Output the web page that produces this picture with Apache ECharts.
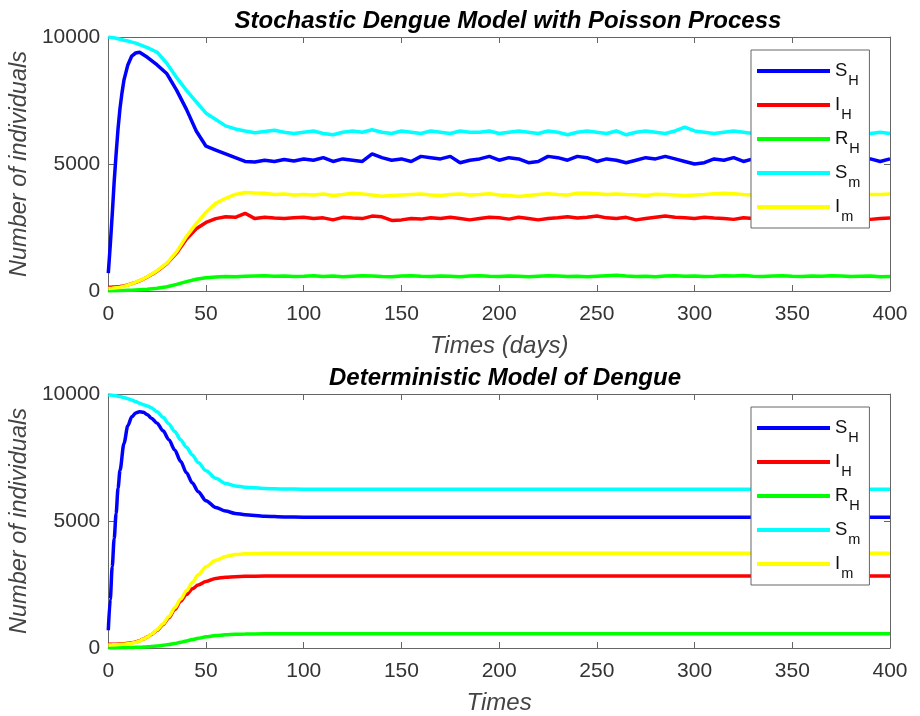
<!DOCTYPE html>
<html>
<head>
<meta charset="utf-8">
<script src="https://cdn.jsdelivr.net/npm/echarts@6/dist/echarts.min.js"></script>
<style>
  html,body{margin:0;padding:0;background:#fff;}
  #chart{width:920px;height:716px;}
</style>
</head>
<body>
<div id="chart"></div>
<script>
// 图例名称
const names = ['S_H', 'I_H', 'R_H', 'S_m', 'I_m']
const colors = ['#0000ff', '#ff0000', '#00ff00', '#00ffff', '#ffff00']

// 随机模型的时间点
const daysStoch = [0,1,2,3,4,5,6,7,8,10,12,14,16,18,20,
  25,30,35,40,45,50,55,60,65,70,75,80,85,90,95,
  100,105,110,115,120,125,130,135,140,145,150,155,160,165,170,175,180,185,190,195,
  200,205,210,215,220,225,230,235,240,245,250,255,260,265,270,275,280,285,290,295,
  300,305,310,315,320,325,330,335,340,345,350,355,360,365,370,375,380,385,390,395,400]

const shStoch = [700,1800,3000,4300,5400,6400,7200,7800,8300,8900,9250,9370,9400,9300,9200,
  8900,8550,7900,7150,6300,5700,5550,5400,5250,5100,5080,5150,5100,5180,5120,
  5200,5150,5250,5100,5200,5150,5100,5400,5250,5150,5200,5100,5300,5250,5200,5300,5050,5150,5200,5300,
  5150,5250,5200,5050,5100,5300,5250,5150,5300,5250,5100,5200,5150,5050,5150,5250,5200,5300,5200,5100,
  5000,5050,5200,5150,5250,5100,5200,5150,5250,5200,5100,5150,5250,5200,5150,5100,5200,5250,5200,5100,5200]
const ihStoch = [150,150,155,160,165,170,180,190,200,240,290,340,400,470,550,
  780,1080,1500,2050,2450,2700,2850,2920,2900,3060,2850,2900,2870,2850,2880,
  2900,2850,2880,2800,2900,2870,2850,2950,2920,2780,2800,2850,2830,2880,2850,2900,2850,2800,2850,2900,
  2880,2830,2900,2850,2800,2850,2880,2920,2870,2900,2950,2880,2850,2900,2800,2850,2900,2950,2900,2880,
  2850,2900,2870,2850,2820,2880,2850,2900,2950,2800,2850,2780,2820,2850,2880,2900,2850,2880,2820,2850,2870]
const rhStoch = [0,0,5,8,10,12,15,18,20,25,30,40,50,60,70,
  110,170,260,370,460,520,550,570,560,580,590,600,580,590,570,
  580,600,570,590,560,580,600,590,570,560,590,600,580,570,590,580,560,590,600,580,
  570,590,580,560,580,600,590,570,580,560,580,600,620,590,570,580,560,590,600,580,
  590,570,580,600,590,610,580,570,590,600,580,570,590,580,600,590,570,580,590,560,570]
const smStoch = [10000,9990,9980,9960,9950,9930,9910,9890,9870,9840,9800,9760,9700,9640,9580,
  9400,8960,8400,7900,7450,7000,6750,6500,6380,6300,6230,6280,6330,6250,6200,
  6250,6300,6200,6150,6250,6300,6250,6350,6250,6200,6300,6250,6200,6300,6250,6200,6300,6250,6250,6300,
  6200,6250,6300,6250,6200,6300,6250,6150,6250,6300,6250,6200,6300,6150,6250,6300,6250,6200,6300,6450,
  6300,6250,6200,6250,6300,6250,6200,6250,6300,6250,6200,6250,6300,6250,6200,6250,6300,6250,6200,6250,6200]
const imStoch = [100,105,110,120,130,140,150,165,180,230,285,345,410,480,560,
  800,1100,1550,2150,2650,3100,3450,3650,3800,3880,3860,3850,3800,3820,3780,
  3800,3780,3820,3760,3800,3850,3820,3780,3730,3760,3780,3800,3820,3780,3760,3800,3820,3780,3800,3830,
  3780,3760,3720,3760,3800,3830,3800,3780,3850,3850,3830,3800,3820,3800,3790,3760,3810,3800,3780,3760,
  3780,3800,3830,3850,3830,3800,3780,3790,3820,3800,3780,3800,3810,3790,3770,3800,3790,3780,3800,3800,3820]

// 确定性模型的时间点
const daysDet = [0,1,2,3,4,5,6,8,10,12,14,16,18,20,22,25,28,31,34,37,40,43,46,50,55,60,65,70,80,90,100,150,200,250,300,350,400]

const shDet = [700,1900,3200,4300,5300,6300,7000,8050,8750,9100,9250,9300,9280,9180,9050,8850,8550,8200,7800,7350,6900,6500,6150,5800,5530,5390,5300,5250,5190,5160,5150,5150,5150,5150,5150,5150,5150]
const ihDet = [150,150,150,150,150,155,160,170,185,205,235,290,355,430,530,700,920,1190,1510,1840,2110,2330,2480,2620,2740,2790,2810,2820,2830,2830,2830,2830,2830,2830,2830,2830,2830]
const rhDet = [0,0,2,3,5,7,9,12,15,20,25,30,38,45,55,80,105,140,180,225,280,330,380,440,490,520,540,550,558,562,565,565,565,565,565,565,565]
const smDet = [9970,9960,9950,9940,9930,9910,9900,9860,9810,9760,9700,9640,9580,9530,9460,9300,9080,8820,8520,8200,7900,7600,7300,6980,6680,6480,6380,6330,6280,6260,6250,6250,6250,6250,6250,6250,6250]
const imDet = [120,122,124,127,130,135,140,150,170,190,220,280,350,430,540,720,950,1240,1580,1920,2250,2580,2880,3200,3450,3600,3680,3710,3730,3730,3730,3730,3730,3730,3730,3730,3730]

// 刻度
const xTicks = [0,50,100,150,200,250,300,350,400]
const yTicks = [0,5000,10000]

const stochData = [shStoch, ihStoch, rhStoch, smStoch, imStoch]
const detData = [shDet, ihDet, rhDet, smDet, imDet]

const chart = echarts.init(document.getElementById('chart'))

const fontMain = 'Liberation Sans, Arial, sans-serif'
const axisColor = '#333'
const frameColor = '#666'

function xAxes(gridIndex, title) {
  return [
    {
      type: 'value', gridIndex, min: xTicks[0], max: xTicks[xTicks.length - 1], interval: 50,
      position: 'bottom',
      axisLine: { show: true, onZero: false, lineStyle: { color: frameColor } },
      axisTick: { inside: true, length: 6, lineStyle: { color: frameColor } },
      axisLabel: { color: axisColor, fontSize: 21, fontFamily: fontMain, margin: 13 },
      splitLine: { show: false },
      name: title, nameLocation: 'middle', nameGap: 43,
      nameTextStyle: { fontSize: 24, fontStyle: 'italic', color: '#444', fontFamily: fontMain }
    },
    {
      type: 'value', gridIndex, min: 0, max: 400, interval: 50, position: 'top',
      axisLine: { show: true, onZero: false, lineStyle: { color: frameColor } },
      axisTick: { inside: true, length: 6, lineStyle: { color: frameColor } },
      axisLabel: { show: false }, splitLine: { show: false }
    }
  ]
}

function yAxes(gridIndex) {
  return [
    {
      type: 'value', gridIndex, min: yTicks[0], max: yTicks[yTicks.length - 1], interval: 5000,
      position: 'left',
      axisLine: { show: true, onZero: false, lineStyle: { color: frameColor } },
      axisTick: { inside: true, length: 6, lineStyle: { color: frameColor } },
      axisLabel: { color: axisColor, fontSize: 21, fontFamily: fontMain, margin: 8, formatter: v => String(v) },
      splitLine: { show: false },
      name: 'Number of individuals', nameLocation: 'middle', nameGap: 66, nameRotate: 90,
      nameTextStyle: { fontSize: 23.5, fontStyle: 'italic', color: '#444', fontFamily: fontMain }
    },
    {
      type: 'value', gridIndex, min: 0, max: 10000, interval: 5000, position: 'right',
      axisLine: { show: true, onZero: false, lineStyle: { color: frameColor } },
      axisTick: { inside: true, length: 6, lineStyle: { color: frameColor } },
      axisLabel: { show: false }, splitLine: { show: false }
    }
  ]
}

function legend(top) {
  return {
    data: names, orient: 'vertical', left: 751, top: top,
    backgroundColor: '#fff', borderColor: '#666', borderWidth: 1,
    padding: [4, 9, 4, 6], itemGap: 0,
    icon: 'rect', itemWidth: 73, itemHeight: 4,
    formatter: function (n) {
      const p = n.split('_')
      return '{m|' + p[0] + '}{s|' + p[1] + '}'
    },
    textStyle: {
      rich: {
        m: { fontSize: 18.5, fontFamily: fontMain, color: '#111', lineHeight: 31 },
        s: { fontSize: 14.5, fontFamily: fontMain, color: '#111', lineHeight: 12, padding: [19, 0, 0, 1] }
      }
    }
  }
}

const series = []
names.forEach((n, k) => {
  series.push({
    name: n, type: 'line', xAxisIndex: 0, yAxisIndex: 0, showSymbol: false,
    lineStyle: { width: 3.5, color: colors[k] }, itemStyle: { color: colors[k] },
    data: daysStoch.map((t, i) => [t, stochData[k][i]])
  })
})
names.forEach((n, k) => {
  series.push({
    name: n, type: 'line', xAxisIndex: 2, yAxisIndex: 2, showSymbol: false,
    smooth: 0.3, smoothMonotone: 'x',
    lineStyle: { width: 3.5, color: colors[k] }, itemStyle: { color: colors[k] },
    data: daysDet.map((t, i) => [t, detData[k][i]])
  })
})

chart.setOption({
  animation: false,
  backgroundColor: '#fff',
  title: [
    { text: 'Stochastic Dengue Model with Poisson Process', left: 503, textAlign: 'center', top: 4,
      textStyle: { fontSize: 24, fontWeight: 'bold', fontStyle: 'italic', color: '#000', fontFamily: fontMain } },
    { text: 'Deterministic Model of Dengue', left: 500, textAlign: 'center', top: 361,
      textStyle: { fontSize: 24, fontWeight: 'bold', fontStyle: 'italic', color: '#000', fontFamily: fontMain } }
  ],
  grid: [
    { left: 108, top: 37, width: 782, height: 254 },
    { left: 108, top: 394, width: 782, height: 254 }
  ],
  xAxis: [...xAxes(0, 'Times (days)'), ...xAxes(1, 'Times')],
  yAxis: [...yAxes(0), ...yAxes(1)],
  legend: [legend(50), legend(407)],
  series: series
})
</script>
</body>
</html>
